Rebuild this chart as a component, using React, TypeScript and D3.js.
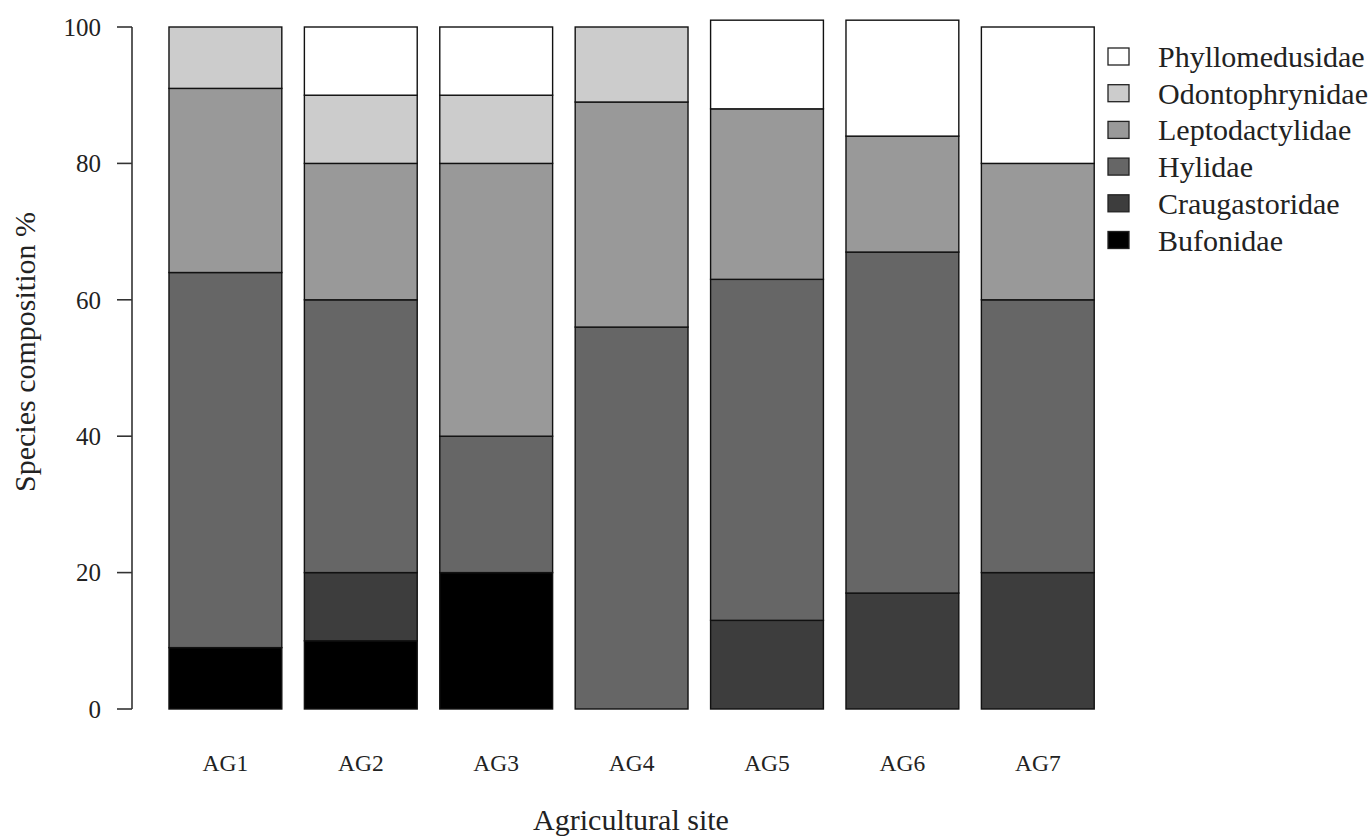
import React from "react";
import * as d3 from "d3";

const sites = ["AG1", "AG2", "AG3", "AG4", "AG5", "AG6", "AG7"];
const families = ["Bufonidae", "Craugastoridae", "Hylidae", "Leptodactylidae", "Odontophrynidae", "Phyllomedusidae"];
const bufonidae = [9, 10, 20, 0, 0, 0, 0];
const craugastoridae = [0, 10, 0, 0, 13, 17, 20];
const hylidae = [55, 40, 20, 56, 50, 50, 40];
const leptodactylidae = [27, 20, 40, 33, 25, 17, 20];
const odontophrynidae = [9, 10, 10, 11, 0, 0, 0];
const phyllomedusidae = [0, 10, 10, 0, 13, 17, 20];
const familyColors = ["#000000", "#3d3d3d", "#666666", "#999999", "#cccccc", "#ffffff"];
const yTicks = [0, 20, 40, 60, 80, 100];

const W = 1372;
const H = 836;
const FONT = "'Liberation Serif', 'Times New Roman', serif";

export default function App() {
  const series = [bufonidae, craugastoridae, hylidae, leptodactylidae, odontophrynidae, phyllomedusidae];
  const rows = sites.map((s, i) => {
    const r: any = { site: s };
    families.forEach((f, j) => (r[f] = series[j][i]));
    return r;
  });
  const stacked = d3.stack().keys(families)(rows);

  const y = d3.scaleLinear().domain([0, 100]).range([709, 27]);
  const x = d3
    .scaleBand()
    .domain(sites)
    .range([157.7, 1105.5])
    .paddingInner(0.2 / 1.2)
    .paddingOuter(0.1 / 1.2);

  const legendOrder = families.map((f, j) => ({ f, c: familyColors[j] })).reverse();

  return (
    <svg width={W} height={H} style={{ position: "absolute", left: 0, top: 0, background: "#fff" }} fontFamily={FONT}>
      <rect x={0} y={0} width={W} height={H} fill="#fff" />
      {stacked.map((layer, j) =>
        layer.map((d, i) => {
          const h = y(d[0]) - y(d[1]);
          if (h <= 0) return null;
          return (
            <rect
              key={`${j}-${i}`}
              x={x(sites[i])}
              y={y(d[1])}
              width={x.bandwidth()}
              height={h}
              fill={familyColors[j]}
              stroke="#111"
              strokeWidth={1.4}
            />
          );
        })
      )}
      {/* y axis */}
      <line x1={132} x2={132} y1={y(0)} y2={y(100)} stroke="#333" strokeWidth={1.6} />
      {yTicks.map((t) => (
        <g key={t}>
          <line x1={117} x2={132} y1={y(t)} y2={y(t)} stroke="#333" strokeWidth={1.6} />
          <text x={101} y={y(t)} dy="0.35em" textAnchor="end" fontSize={25} fill="#222">
            {t}
          </text>
        </g>
      ))}
      {/* x labels */}
      {sites.map((s) => (
        <text key={s} x={(x(s) as number) + x.bandwidth() / 2} y={771} textAnchor="middle" fontSize={23.5} fill="#222">
          {s}
        </text>
      ))}
      <text x={631} y={830} textAnchor="middle" fontSize={30} fill="#222">
        Agricultural site
      </text>
      <text transform={`translate(35,352) rotate(-90)`} textAnchor="middle" fontSize={30} fill="#222">
        Species composition %
      </text>
      {/* legend */}
      {legendOrder.map((l, k) => {
        const cy = 56.5 + k * 36.7;
        return (
          <g key={l.f}>
            <rect x={1108} y={cy - 8.5} width={21} height={17} fill={l.c} stroke="#222" strokeWidth={1.3} />
            <text x={1158} y={cy} dy="0.35em" fontSize={30} fill="#222">
              {l.f}
            </text>
          </g>
        );
      })}
    </svg>
  );
}
